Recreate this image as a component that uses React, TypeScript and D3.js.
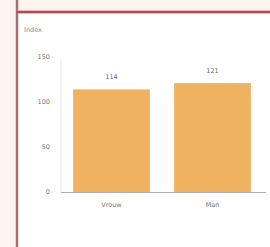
import React, { useRef, useEffect } from 'react';
import * as d3 from 'd3';

const categories = ['Vrouw', 'Man'];
const values = [114, 121];
const yTicks = [0, 50, 100, 150];

const W = 270;
const H = 247;

const App = () => {
  const svgRef = useRef<SVGSVGElement | null>(null);

  useEffect(() => {
    if (!svgRef.current) return;
    const svg = d3.select(svgRef.current);
    svg.selectAll('*').remove();

    // page background + white panel
    svg.append('rect').attr('width', W).attr('height', H).attr('fill', '#fdf4f0');
    svg.append('rect').attr('x', 17).attr('y', 12).attr('width', W - 17).attr('height', H - 12).attr('fill', '#ffffff');

    // panel borders (soft halo + dark line)
    svg.append('line').attr('x1', 17).attr('x2', W).attr('y1', 12).attr('y2', 12)
      .attr('stroke', '#e9b8bd').attr('stroke-width', 4);
    svg.append('line').attr('x1', 17).attr('x2', 17).attr('y1', 0).attr('y2', H)
      .attr('stroke', '#d8b4b8').attr('stroke-width', 3);
    svg.append('line').attr('x1', 17).attr('x2', W).attr('y1', 12).attr('y2', 12)
      .attr('stroke', '#9e2633').attr('stroke-width', 1.6);
    svg.append('line').attr('x1', 17).attr('x2', 17).attr('y1', 0).attr('y2', H)
      .attr('stroke', '#8a4a55').attr('stroke-width', 1.3);

    const left = 61;
    const right = 263;
    const top = 57;
    const bottom = 192;

    const x = d3.scaleBand().domain(categories).range([left, right]).paddingInner(0.24).paddingOuter(0.12);
    const y = d3.scaleLinear().domain([0, 150]).range([bottom, top]);

    const font = 'DejaVu Sans, sans-serif';

    // y axis
    svg.append('line').attr('x1', left).attr('x2', left).attr('y1', top + 2).attr('y2', bottom)
      .attr('stroke', '#e6e6ea').attr('stroke-width', 1);
    svg.selectAll('.ytick').data(yTicks).enter().append('text')
      .attr('x', left - 11).attr('y', d => y(d)).attr('dy', '0.35em')
      .attr('text-anchor', 'end').attr('font-family', font).attr('font-size', 6.5)
      .attr('fill', '#777777').text(d => d);
    svg.selectAll('.ytickmark').data(yTicks).enter().append('line')
      .attr('x1', left - 10).attr('x2', left - 8).attr('y1', d => y(d)).attr('y2', d => y(d))
      .attr('stroke', '#cccccc').attr('stroke-width', 0.6);

    svg.append('text').attr('x', 24).attr('y', 32).attr('font-family', font).attr('font-size', 6.5)
      .attr('fill', '#888888').text('Index');

    // bars
    svg.selectAll('.bar').data(values).enter().append('rect')
      .attr('x', (d, i) => x(categories[i]) as number)
      .attr('y', d => y(d))
      .attr('width', x.bandwidth())
      .attr('height', d => bottom - y(d))
      .attr('fill', '#efb260');

    svg.selectAll('.val').data(values).enter().append('text')
      .attr('x', (d, i) => (x(categories[i]) as number) + x.bandwidth() / 2)
      .attr('y', d => y(d) - 10)
      .attr('text-anchor', 'middle').attr('font-family', font).attr('font-size', 6.5)
      .attr('fill', '#666666').text(d => d);

    // baseline
    svg.append('line').attr('x1', left).attr('x2', W - 4).attr('y1', bottom + 0.5).attr('y2', bottom + 0.5)
      .attr('stroke', '#9a9aa0').attr('stroke-width', 0.8);

    svg.selectAll('.cat').data(categories).enter().append('text')
      .attr('x', d => (x(d) as number) + x.bandwidth() / 2)
      .attr('y', bottom + 15)
      .attr('text-anchor', 'middle').attr('font-family', font).attr('font-size', 6.5)
      .attr('fill', '#777777').text(d => d);
  }, []);

  return (
    <div style={{ position: 'absolute', left: 0, top: 0, width: W, height: H }}>
      <svg ref={svgRef} width={W} height={H} style={{ display: 'block' }} />
    </div>
  );
};

export default App;
